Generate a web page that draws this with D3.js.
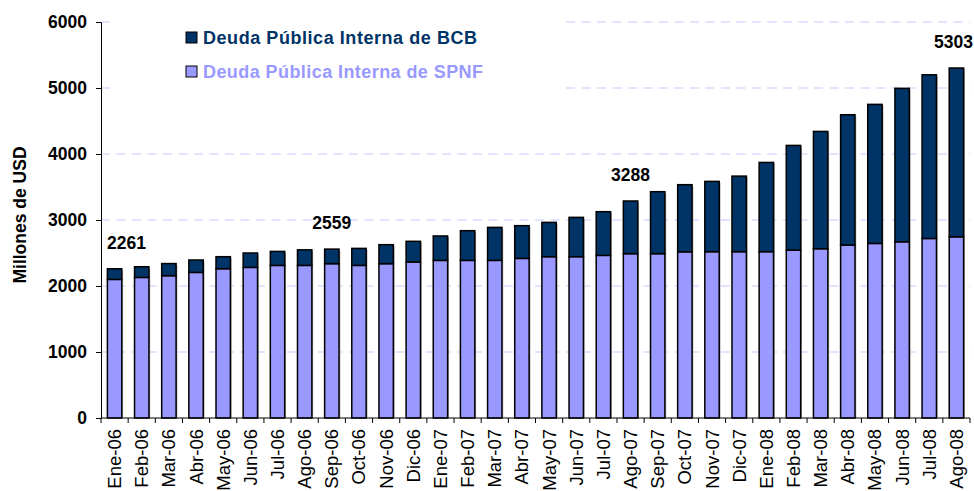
<!DOCTYPE html>
<html>
<head>
<meta charset="utf-8">
<script src="https://cdn.jsdelivr.net/npm/d3@7"></script>
<style>
  body { margin: 0; background: #fff; }
  svg { display: block; font-family: Arial, "Liberation Sans", sans-serif; }
</style>
</head>
<body>
<svg id="chart" width="974" height="491"></svg>
<script>
// months on the x axis
const months = ['Ene-06','Feb-06','Mar-06','Abr-06','May-06','Jun-06','Jul-06','Ago-06','Sep-06','Oct-06','Nov-06','Dic-06',
  'Ene-07','Feb-07','Mar-07','Abr-07','May-07','Jun-07','Jul-07','Ago-07','Sep-07','Oct-07','Nov-07','Dic-07',
  'Ene-08','Feb-08','Mar-08','Abr-08','May-08','Jun-08','Jul-08','Ago-08'];

// Deuda Pública Interna de SPNF (bottom)
const spnf = [2100,2130,2156,2206,2262,2282,2312,2312,2338,2312,2338,2364,
  2388,2388,2388,2418,2444,2444,2464,2490,2490,2518,2520,2520,
  2520,2545,2565,2620,2645,2670,2720,2745];

// Deuda Pública Interna de BCB (top)
const bcb = [161,162,184,188,182,218,212,236,221,258,288,313,
  370,450,500,496,520,596,662,798,939,1017,1065,1145,
  1352,1585,1777,1975,2107,2325,2480,2558];

// totals shown above some bars
const labelMonths = ['Ene-06','Sep-06','Ago-07','Ago-08'];
const labelValues = [2261, 2559, 3288, 5303];

const yTicks = [0,1000,2000,3000,4000,5000,6000];
const seriesNames = ['Deuda Pública Interna de BCB','Deuda Pública Interna de SPNF'];
const colBCB = '#003366', colSPNF = '#9999ff';

const svg = d3.select('#chart');
const mLeft = 101, mRight = 970, mTop = 22, mBottom = 418;

const x = d3.scaleBand().domain(months).range([mLeft, mRight]).paddingInner(0.47).paddingOuter(0.235);
const y = d3.scaleLinear().domain([0, 6000]).range([mBottom, mTop]);

// grid lines
svg.append('g').selectAll('line')
  .data(yTicks.filter(d => d > 0))
  .join('line')
  .attr('x1', mLeft).attr('x2', mRight)
  .attr('y1', d => y(d)).attr('y2', d => y(d))
  .attr('stroke', '#c8c8ff').attr('stroke-width', 1.2)
  .attr('stroke-dasharray', '9,6.5');

// legend background hides grid lines behind it
svg.append('rect').attr('x', 110).attr('y', 8).attr('width', 452).attr('height', 92).attr('fill', '#fff');

// stack
const rows = months.map((m, i) => ({ month: m, spnf: spnf[i], bcb: bcb[i] }));
const stack = d3.stack().keys(['spnf', 'bcb'])(rows);
const colors = { spnf: colSPNF, bcb: colBCB };

// small grey shadow on right of bars
svg.append('g').selectAll('rect')
  .data(rows)
  .join('rect')
  .attr('x', d => x(d.month) + x.bandwidth() - 0.5)
  .attr('y', d => y(d.spnf + d.bcb) + 1.5)
  .attr('width', 1.8)
  .attr('height', d => mBottom - y(d.spnf + d.bcb) - 1.5)
  .attr('fill', '#aaa');

svg.append('g').selectAll('g')
  .data(stack)
  .join('g')
  .attr('fill', s => colors[s.key])
  .selectAll('rect')
  .data(s => s)
  .join('rect')
  .attr('x', d => x(d.data.month))
  .attr('y', d => y(d[1]))
  .attr('width', x.bandwidth())
  .attr('height', d => y(d[0]) - y(d[1]))
  .attr('stroke', '#000').attr('stroke-width', 1.5);

// axes
const yAxis = svg.append('g').attr('transform', `translate(${mLeft},0)`)
  .call(d3.axisLeft(y).tickValues(yTicks).tickFormat(d3.format('d')).tickSize(5).tickPadding(9));
yAxis.select('.domain').attr('stroke', '#000');
yAxis.selectAll('text').attr('font-size', 17.5).attr('font-weight', 'bold').attr('fill', '#000');

const xAxis = svg.append('g').attr('transform', `translate(0,${mBottom})`);
xAxis.append('line').attr('x1', mLeft).attr('x2', mRight).attr('stroke', '#000');
xAxis.selectAll('.tk')
  .data(d3.range(months.length + 1))
  .join('line')
  .attr('class', 'tk')
  .attr('x1', i => mLeft + i * x.step()).attr('x2', i => mLeft + i * x.step())
  .attr('y1', 0).attr('y2', 5).attr('stroke', '#000');
xAxis.selectAll('.lbl')
  .data(months)
  .join('text')
  .attr('class', 'lbl')
  .attr('transform', d => `translate(${x(d) + x.bandwidth() / 2},11) rotate(-90)`)
  .attr('text-anchor', 'end')
  .attr('dy', '0.35em')
  .attr('font-size', 18.5)
  .attr('fill', '#000')
  .text(d => d);

// axis title
svg.append('text')
  .attr('transform', `translate(20,215) rotate(-90)`)
  .attr('text-anchor', 'middle').attr('dy', '0.35em')
  .attr('font-size', 17.5).attr('font-weight', 'bold')
  .text('Millones de USD');

// value labels
const lastIdx = labelMonths.length - 1;
svg.append('g').selectAll('text')
  .data(labelMonths)
  .join('text')
  .attr('x', (m, i) => i === lastIdx ? 973 : x(m) + x.bandwidth() / 2 + (i === 0 ? 12 : 0))
  .attr('y', (m, i) => y(labelValues[i]) - 20)
  .attr('text-anchor', (m, i) => i === lastIdx ? 'end' : 'middle')
  .attr('font-size', 17.5).attr('font-weight', 'bold')
  .text((m, i) => labelValues[i]);

// legend
const leg = svg.append('g');
seriesNames.forEach((name, i) => {
  const c = i === 0 ? colBCB : colSPNF;
  leg.append('rect').attr('x', 186).attr('y', 32 + i * 34).attr('width', 11).attr('height', 11)
    .attr('fill', c).attr('stroke', '#000').attr('stroke-width', 1);
  leg.append('text').attr('x', 203).attr('y', 44 + i * 34)
    .attr('font-size', 18).attr('font-weight', 'bold').attr('fill', c)
    .attr('textLength', i === 0 ? 274 : 280).attr('lengthAdjust', 'spacing')
    .text(name);
});
</script>
</body>
</html>
